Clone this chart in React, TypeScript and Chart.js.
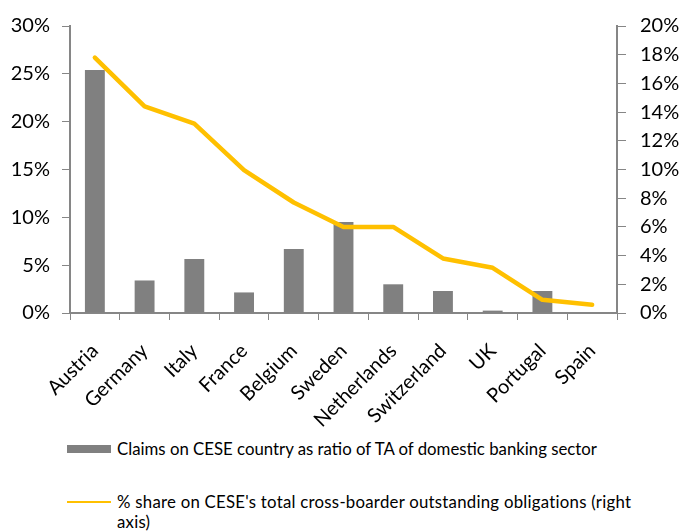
import React, { useEffect, useRef } from "react";
import { Chart, registerables } from "chart.js";

Chart.register(...registerables);

const countries = ["Austria", "Germany", "Italy", "France", "Belgium", "Sweden", "Netherlands", "Switzerland", "UK", "Portugal", "Spain"];
const claimsRatio = [25.4, 3.4, 5.65, 2.15, 6.7, 9.5, 3.0, 2.3, 0.25, 2.3, 0];
const sharePct = [17.8, 14.4, 13.2, 9.95, 7.7, 6.0, 6.0, 3.8, 3.15, 0.92, 0.58];
const leftTicksMax = 30;
const rightTicksMax = 20;

const barLabel = "Claims on CESE country as ratio of TA of domestic banking sector";
const lineLabel = "% share on CESE's total cross-boarder outstanding obligations (right axis)";

const FONT = "Lato, 'Open Sans', sans-serif";
const AXIS = "#868686";

export default function App() {
  const ref = useRef<HTMLCanvasElement | null>(null);
  useEffect(() => {
    if (!ref.current) return;
    const chart = new Chart(ref.current, {
      type: "bar",
      data: {
        labels: countries,
        datasets: [
          {
            type: "line",
            label: lineLabel,
            data: sharePct,
            yAxisID: "y2",
            borderColor: "#FFC000",
            backgroundColor: "#FFC000",
            borderWidth: 4.5,
            pointRadius: 0,
            borderCapStyle: "round",
            borderJoinStyle: "round",
            tension: 0,
            order: 0,
          } as any,
          {
            type: "bar",
            label: barLabel,
            data: claimsRatio,
            yAxisID: "y",
            backgroundColor: "#808080",
            barPercentage: 0.4,
            categoryPercentage: 1,
            order: 1,
          },
        ],
      },
      options: {
        responsive: false,
        animation: false,
        layout: { padding: { top: 25, left: 0, right: 0, bottom: 0 } },
        plugins: { legend: { display: false }, tooltip: { enabled: false } },
        scales: {
          x: {
            grid: { display: true, drawOnChartArea: false, drawTicks: true, tickLength: 7, color: AXIS, offset: true },
            border: { display: true, color: AXIS, width: 2 },
            ticks: { minRotation: 45, maxRotation: 45, color: "#000", font: { family: FONT, size: 20 }, padding: 19 },
            afterFit: (s: any) => { s.height = 117; },
          },
          y: {
            position: "left",
            min: 0,
            max: leftTicksMax,
            ticks: { stepSize: 5, callback: (v: any) => v + "%", color: "#000", font: { family: FONT, size: 20 }, padding: 12 },
            grid: { display: true, drawOnChartArea: false, drawTicks: true, tickLength: 8, color: AXIS },
            border: { display: true, color: AXIS, width: 2 },
            afterFit: (s: any) => { s.width = 70; },
          },
          y2: {
            position: "right",
            min: 0,
            max: rightTicksMax,
            ticks: { stepSize: 2, callback: (v: any) => v + "%", color: "#000", font: { family: FONT, size: 20 }, padding: 14 },
            grid: { display: true, drawOnChartArea: false, drawTicks: true, tickLength: 9, color: AXIS },
            border: { display: true, color: AXIS, width: 2 },
            afterFit: (s: any) => { s.width = 66; },
          },
        },
      },
    });
    return () => chart.destroy();
  }, []);

  return (
    <div style={{ position: "absolute", left: 0, top: 0, width: 683, height: 531, background: "#fff", fontFamily: FONT, overflow: "hidden" }}>
      <canvas ref={ref} width={683} height={430} style={{ display: "block", width: 683, height: 430 }} />
      <div style={{ position: "absolute", left: 67, top: 439, display: "flex", alignItems: "center", whiteSpace: "nowrap" }}>
        <div style={{ width: 44, height: 8, background: "#808080", marginRight: 6 }} />
        <span style={{ fontSize: 16.8, color: "#000", lineHeight: "20px" }}>{barLabel}</span>
      </div>
      <div style={{ position: "absolute", left: 67, top: 492, display: "flex", alignItems: "flex-start", whiteSpace: "nowrap" }}>
        <div style={{ width: 44, height: 2, background: "#FFC000", marginRight: 6, marginTop: 9 }} />
        <span style={{ fontSize: 16.8, color: "#000", lineHeight: "20px", letterSpacing: "0.25px" }}>
          % share on CESE's total cross-boarder outstanding obligations (right<br />axis)
        </span>
      </div>
    </div>
  );
}
